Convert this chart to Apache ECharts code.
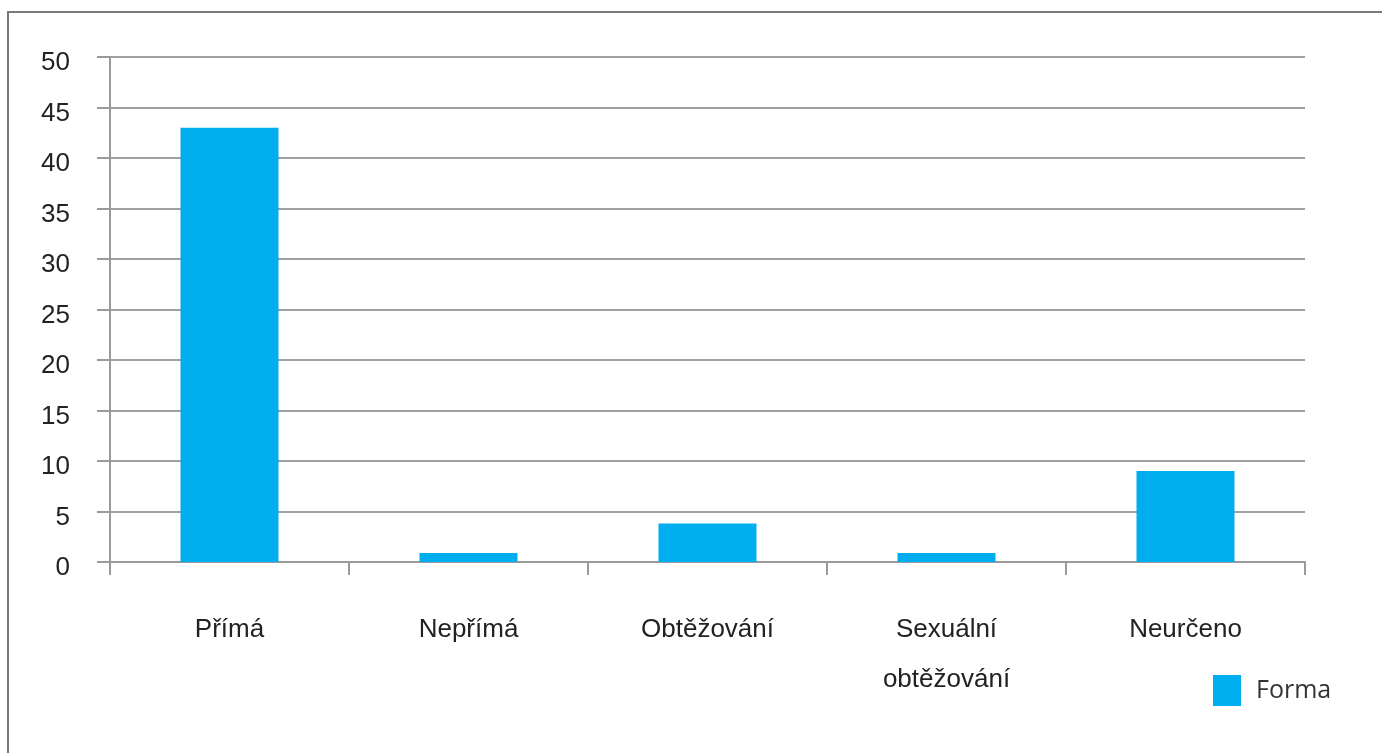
<!DOCTYPE html>
<html>
<head>
<meta charset="utf-8">
<style>
html,body{margin:0;padding:0;background:#fff;}
#chart{width:1382px;height:753px;}
</style>
<script src="https://cdn.jsdelivr.net/npm/echarts@6/dist/echarts.min.js"></script>
</head>
<body>
<div id="chart"></div>
<script>
const categories = ['Přímá', 'Nepřímá', 'Obtěžování', 'Sexuální\nobtěžování', 'Neurčeno'];
const values = [43, 0.9, 3.8, 0.9, 9];
const seriesName = 'Forma';
const yMin = 0, yMax = 50, yStep = 5;

const chart = echarts.init(document.getElementById('chart'));
chart.setOption({
  animation: false,
  backgroundColor: '#fff',
  graphic: [{
    type: 'rect', silent: true, z: -1,
    shape: { x: 8, y: 12, width: 1500, height: 900 },
    style: { fill: 'none', stroke: '#7a7a7a', lineWidth: 2 }
  }],
  grid: { left: 110, right: 77, top: 57, bottom: 191, containLabel: false },
  legend: {
    data: [seriesName],
    left: 1208, top: 670,
    itemWidth: 28, itemHeight: 31,
    icon: 'rect',
    textStyle: { fontFamily: 'Open Sans', fontSize: 25, color: '#333', padding: [0, 0, 0, 10] }
  },
  xAxis: {
    type: 'category',
    data: categories,
    axisLine: { lineStyle: { color: '#9a9a9a', width: 2 } },
    axisTick: { show: true, length: 13, lineStyle: { color: '#9a9a9a', width: 2 } },
    axisLabel: { fontFamily: 'Liberation Sans', fontSize: 26, color: '#222', margin: 43, lineHeight: 50, interval: 0 }
  },
  yAxis: {
    type: 'value',
    min: yMin, max: yMax, interval: yStep,
    axisLine: { show: true, lineStyle: { color: '#9a9a9a', width: 2 } },
    axisTick: { show: true, length: 13, lineStyle: { color: '#9a9a9a', width: 2 } },
    splitLine: { show: true, lineStyle: { color: '#a0a0a0', width: 2 } },
    axisLabel: { fontFamily: 'Liberation Sans', fontSize: 26, color: '#222', margin: 40, verticalAlign: 'top', lineHeight: 12 }
  },
  series: [{
    name: seriesName,
    type: 'bar',
    data: values,
    barWidth: '41%',
    itemStyle: { color: '#00ADEE' }
  }]
});
</script>
</body>
</html>
